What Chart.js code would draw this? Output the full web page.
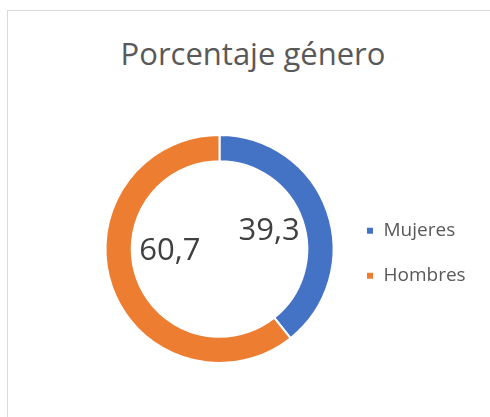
<!DOCTYPE html>
<html>
<head>
<meta charset="utf-8">
<script src="https://cdn.jsdelivr.net/npm/chart.js@4"></script>
<style>
  html, body { margin: 0; padding: 0; background: #fff; overflow: hidden; }
  #wrap { position: relative; width: 490px; height: 417px; }
  #frame { position: absolute; left: 7px; top: 10px; width: 600px; height: 600px; border: 1px solid #d9d9d9; box-sizing: border-box; }
  #title { position: absolute; left: 0; top: 34px; width: 506px; text-align: center; font: 31px "Open Sans", sans-serif; line-height: 38px; color: #595959; }
  canvas { position: absolute; left: 0; top: 0; }
</style>
</head>
<body>
<div id="wrap">
  <div id="frame"></div>
  <div id="title">Porcentaje género</div>
  <canvas id="chart" width="490" height="417"></canvas>
</div>
<script>
const labels = ['Mujeres', 'Hombres'];
const values = [39.3, 60.7];
const colors = ['#4472C4', '#ED7D31'];

const fontFamily = 'Open Sans';
const legendFontSize = 19;
const legendBox = 8;
const legendGap = 26;

// measure widest legend text so the legend box lands where the reference has it
const measure = document.createElement('canvas').getContext('2d');
measure.font = legendFontSize + 'px "' + fontFamily + '"';
const textW = Math.max(...labels.map(l => measure.measureText(l).width));
const itemW = legendBox + legendFontSize / 2 + textW;
const boxX = 366;
const padRight = 490 - (boxX + itemW + 10);

// labels sit inside the hole; the Hombres one was pulled up in the original
const labelNudge = [0, -15];

const sliceLabels = {
  id: 'sliceLabels',
  afterDatasetsDraw(chart) {
    const ctx = chart.ctx;
    const meta = chart.getDatasetMeta(0);
    ctx.save();
    ctx.font = '31px "' + fontFamily + '"';
    ctx.fillStyle = '#404040';
    ctx.textAlign = 'center';
    ctx.textBaseline = 'middle';
    meta.data.forEach((arc, i) => {
      const p = arc.getProps(['x', 'y', 'startAngle', 'endAngle', 'innerRadius']);
      const mid = (p.startAngle + p.endAngle) / 2;
      const r = p.innerRadius * 0.6;
      const text = values[i].toLocaleString('es-ES', { minimumFractionDigits: 1 });
      ctx.fillText(text, p.x + Math.cos(mid) * r, p.y + Math.sin(mid) * r + labelNudge[i]);
    });
    ctx.restore();
  }
};

new Chart(document.getElementById('chart'), {
  type: 'doughnut',
  data: {
    labels: labels,
    datasets: [{
      data: values,
      backgroundColor: colors,
      borderColor: '#ffffff',
      borderWidth: 2,
      hoverOffset: 0
    }]
  },
  options: {
    responsive: false,
    animation: false,
    cutout: '77%',
    layout: {
      padding: { top: 134, bottom: 53, left: 99, right: padRight }
    },
    plugins: {
      title: { display: false },
      tooltip: { enabled: false },
      legend: {
        display: true,
        position: 'right',
        title: { display: true, text: '', padding: 0, font: { size: 7 } },
        labels: {
          boxWidth: legendBox,
          boxHeight: legendBox,
          padding: legendGap,
          color: '#595959',
          font: { family: fontFamily, size: legendFontSize }
        }
      }
    }
  },
  plugins: [sliceLabels]
});
</script>
</body>
</html>
